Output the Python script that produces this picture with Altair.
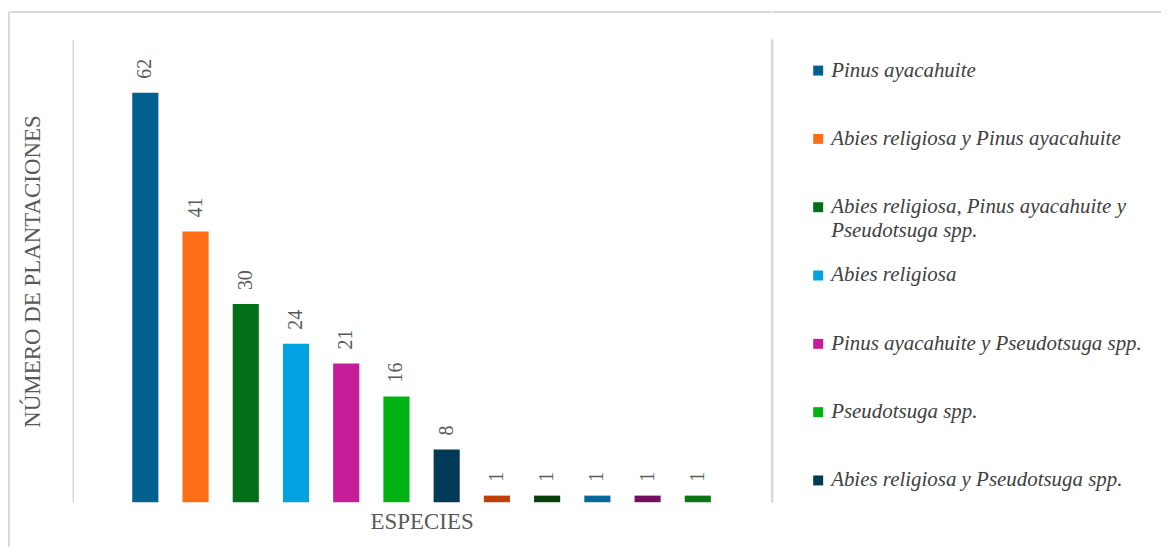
import altair as alt
import pandas as pd

especies = [
    "Pinus ayacahuite",
    "Abies religiosa y Pinus ayacahuite",
    "Abies religiosa, Pinus ayacahuite y Pseudotsuga spp.",
    "Abies religiosa",
    "Pinus ayacahuite y Pseudotsuga spp.",
    "Pseudotsuga spp.",
    "Abies religiosa y Pseudotsuga spp.",
    "Otras 1",
    "Otras 2",
    "Otras 3",
    "Otras 4",
    "Otras 5",
]
plantaciones = [62, 41, 30, 24, 21, 16, 8, 1, 1, 1, 1, 1]
colores = [
    "#035F8E", "#FD6D16", "#006F17", "#00A2E1", "#C71C98", "#00B212",
    "#023A57", "#BF3F06", "#073F0D", "#04689A", "#740F60", "#0A7614",
]

# legend entries (first 7 categories), label split in lines
leyenda_linea1 = [
    "Pinus ayacahuite",
    "Abies religiosa y Pinus ayacahuite",
    "Abies religiosa, Pinus ayacahuite y",
    "Abies religiosa",
    "Pinus ayacahuite y Pseudotsuga spp.",
    "Pseudotsuga spp.",
    "Abies religiosa y Pseudotsuga spp.",
]
leyenda_linea2 = ["", "", "Pseudotsuga spp.", "", "", "", ""]

df = pd.DataFrame({"especie": especies, "plantaciones": plantaciones})
df_leg = pd.DataFrame({
    "especie": especies[:7],
    "orden": list(range(7)),
    "l1": leyenda_linea1,
    "l2": leyenda_linea2,
})

SERIF = "Liberation Serif, Times New Roman, serif"
GRIS = "#595959"
BORDE = "#d9d9d9"
W, H = 700, 464

color_scale = alt.Scale(domain=especies, range=colores)

x_enc = alt.X(
    "especie:N", sort=especies,
    scale=alt.Scale(paddingInner=0.48, paddingOuter=1, range=[9.3, 690.7]),
    axis=alt.Axis(title="ESPECIES", labels=False, ticks=False, domain=False,
                  titleFont=SERIF, titleFontSize=23, titleFontWeight="normal",
                  titleColor=GRIS, titlePadding=8),
)
y_enc = alt.Y(
    "plantaciones:Q", scale=alt.Scale(domain=[0, 70]),
    axis=alt.Axis(title="NÚMERO DE PLANTACIONES", labels=False, ticks=False,
                  grid=False, domainColor=BORDE, domainWidth=1.5,
                  titleFont=SERIF, titleFontSize=23, titleFontWeight="normal",
                  titleColor=GRIS, titlePadding=28),
)

base = alt.Chart(df)
bars = base.mark_bar().encode(
    x=x_enc, y=y_enc,
    color=alt.Color("especie:N", scale=color_scale, legend=None),
)
labels = base.mark_text(
    angle=270, align="left", baseline="middle", dx=14,
    font=SERIF, fontSize=20, color=GRIS,
).encode(x=alt.X("especie:N", sort=especies), y="plantaciones:Q",
         text="plantaciones:Q")

border_left = base.mark_rule(color=BORDE, strokeWidth=1.5).encode(
    x=alt.value(-64), y=alt.value(-28), y2=alt.value(509))
border_top = base.mark_rule(color=BORDE, strokeWidth=1.5).encode(
    x=alt.value(-64), x2=alt.value(W), y=alt.value(-28))

main = alt.layer(bars, labels, border_left, border_top).properties(width=W, height=H)

# legend panel
LW = 390
leg_base = alt.Chart(df_leg)
y_leg = alt.Y("orden:O", scale=alt.Scale(type="point", padding=0.45), axis=None)
squares = leg_base.mark_square(size=100, opacity=1, filled=True).encode(
    x=alt.value(46), y=y_leg,
    color=alt.Color("especie:N", scale=color_scale, legend=None),
)
txt1 = leg_base.mark_text(align="left", baseline="middle", font=SERIF,
                          fontStyle="italic", fontSize=21, color="#404040").encode(
    x=alt.value(59), y=y_leg, text="l1:N")
txt2 = leg_base.mark_text(align="left", baseline="middle", font=SERIF,
                          fontStyle="italic", fontSize=21, color="#404040",
                          dy=24).encode(
    x=alt.value(59), y=y_leg, text="l2:N")
sep = leg_base.mark_rule(color=BORDE, strokeWidth=1.5).encode(
    x=alt.value(0), y=alt.value(0), y2=alt.value(H))
leg_top = leg_base.mark_rule(color=BORDE, strokeWidth=1.5).encode(
    x=alt.value(0), x2=alt.value(LW), y=alt.value(-28))

legend = alt.layer(squares, txt1, txt2, sep, leg_top).properties(width=LW, height=473)

chart = alt.hconcat(main, legend, spacing=0).properties(
    padding={"left": 0, "top": 2, "right": 0, "bottom": 0},
    background="white",
).configure_view(stroke=None)

chart.save("out.html", embed_options={"renderer": "svg", "actions": False})
